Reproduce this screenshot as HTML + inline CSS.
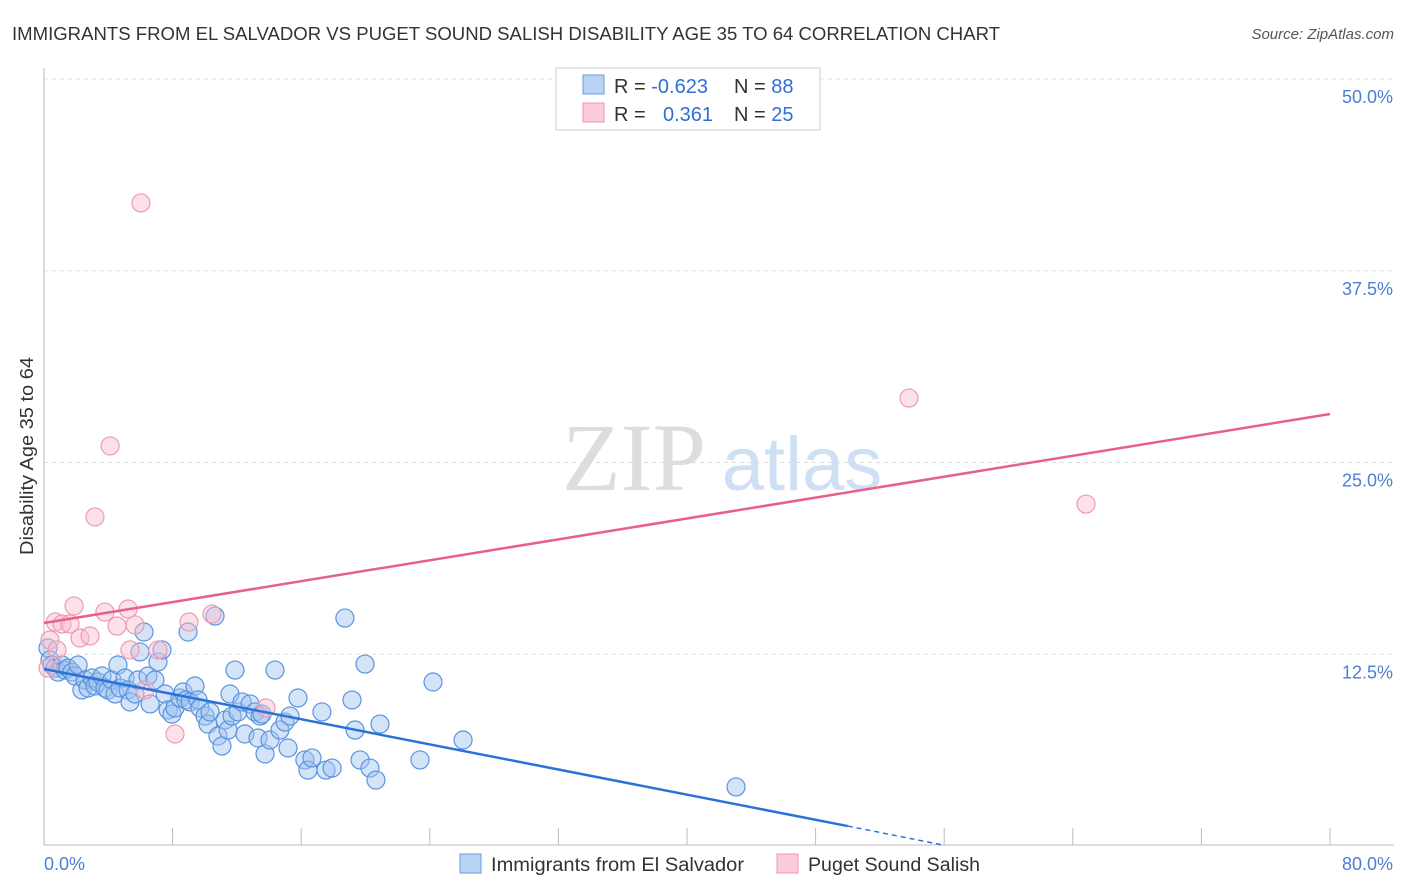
<!DOCTYPE html>
<html><head><meta charset="utf-8">
<style>
body{margin:0;background:#fff;font-family:"Liberation Sans",sans-serif;}
#wrap{position:relative;width:1406px;height:892px;overflow:hidden;}
</style></head>
<body>
<div id="wrap">
<svg id="svg" width="1406" height="892" xmlns="http://www.w3.org/2000/svg">
<text x="12" y="40" font-size="18" fill="#333" textLength="988" lengthAdjust="spacingAndGlyphs">IMMIGRANTS FROM EL SALVADOR VS PUGET SOUND SALISH DISABILITY AGE 35 TO 64 CORRELATION CHART</text>
<text x="1394" y="39" font-size="15" fill="#555" font-style="italic" text-anchor="end">Source: ZipAtlas.com</text>
<text x="0" y="0" transform="translate(33,456) rotate(-90)" font-size="18" fill="#333" text-anchor="middle" textLength="198" lengthAdjust="spacingAndGlyphs">Disability Age 35 to 64</text>
<g>
<text x="634" y="490" font-size="96" fill="#ddd" font-family="Liberation Serif" text-anchor="middle">ZIP</text>
<text x="802" y="490" font-size="76" fill="#cfe0f4" text-anchor="middle">atlas</text>
</g>
<g id="grid"></g><g id="axes"></g><g id="pts"></g><g id="lines"></g>
<g>
<rect x="556" y="68" width="264" height="62" fill="#fff" stroke="#ccc"/>
<rect x="583" y="75" width="21" height="19" fill="#b9d3f5" stroke="#6a9be0"/>
<rect x="583" y="103" width="21" height="19" fill="#fbcbd9" stroke="#ee95b0"/>
<text x="614" y="93" font-size="20" fill="#333">R = <tspan fill="#2f6fd6">-0.623</tspan><tspan x="734">N = </tspan><tspan fill="#2f6fd6">88</tspan></text>
<text x="614" y="121" font-size="20" fill="#333">R = <tspan x="663" fill="#2f6fd6">0.361</tspan><tspan x="734">N = </tspan><tspan fill="#2f6fd6">25</tspan></text>
</g>
<g>
<rect x="460" y="854" width="21" height="19" fill="#b9d3f5" stroke="#6a9be0"/>
<text x="491" y="871" font-size="19" fill="#333" textLength="253" lengthAdjust="spacingAndGlyphs">Immigrants from El Salvador</text>
<rect x="777" y="854" width="21" height="19" fill="#fbcbd9" stroke="#ee95b0"/>
<text x="808" y="871" font-size="19" fill="#333" textLength="172" lengthAdjust="spacingAndGlyphs">Puget Sound Salish</text>
</g>
</svg>
</div>
<script>
const blueX=[0.25,0.37,0.5,0.7,0.87,1.12,1.31,1.49,1.74,1.93,2.12,2.36,2.55,2.74,2.99,3.17,3.36,3.61,3.79,3.98,4.23,4.42,4.6,4.73,5.04,5.23,5.35,5.66,5.85,5.97,6.22,6.47,6.6,6.9,7.09,7.34,7.53,7.72,7.96,8.15,8.46,8.65,8.83,8.96,9.08,9.39,9.58,9.7,10.02,10.2,10.33,10.64,10.82,11.07,11.26,11.45,11.57,11.7,11.88,12.07,12.32,12.5,12.82,13.13,13.31,13.44,13.56,13.75,14.06,14.37,14.68,14.99,15.18,15.3,15.8,16.23,16.42,16.67,17.29,17.54,17.92,18.72,19.16,19.35,19.66,19.97,20.28,20.65,20.9,23.39,24.2,26.07,43.05];
const blueY=[12.91,12.13,11.8,11.6,11.34,11.8,11.47,11.6,11.34,11.08,11.8,10.17,10.82,10.3,10.95,10.43,10.69,11.08,10.3,10.17,10.82,9.91,11.8,10.3,10.95,10.17,9.39,9.91,10.82,12.65,13.95,11.08,9.26,10.82,12.0,12.78,9.91,8.87,8.6,9.0,9.65,10.04,9.52,13.95,9.39,10.43,9.52,9.0,8.47,7.95,8.74,14.99,7.17,6.52,8.21,7.56,9.91,8.47,11.47,8.74,9.39,7.3,9.26,8.74,7.04,8.47,8.6,6.0,6.91,11.47,7.56,8.08,6.39,8.47,9.65,5.61,4.95,5.74,8.74,4.95,5.08,14.86,9.52,7.56,5.61,11.86,5.08,4.3,7.95,5.61,10.69,6.91,3.85];
const pinkX=[0.37,0.7,0.81,1.12,1.62,1.87,2.24,2.86,3.17,3.79,4.11,4.54,5.23,5.35,5.66,6.03,6.28,7.09,8.15,9.02,10.45,13.81,53.81,64.82,0.25];
const pinkY=[13.43,14.6,12.78,14.47,14.47,15.65,13.56,13.69,21.45,15.25,26.08,14.34,15.45,12.78,14.41,41.92,10.17,12.78,7.3,14.6,15.12,9.0,29.2,22.29,11.6];
const blueTrend=[[0,11.54],[50,1.3]];
const blueDash=[[50,1.3],[56,0.05]];
const pinkTrend=[[0,14.54],[80,28.16]];
const yTicks=[12.5,25,37.5,50];
const yTickLabels=["12.5%","25.0%","37.5%","50.0%"];
const xTicks=[0,8,16,24,32,40,48,56,64,72,80];

const NS="http://www.w3.org/2000/svg";
const X0=44,X1=1330,Y0=846,Y1=79;
const sx=v=>X0+(X1-X0)*v/80;
const sy=v=>Y0-(Y0-Y1)*v/50;
function mk(tag,attrs,parent){const e=document.createElementNS(NS,tag);for(const k in attrs)e.setAttribute(k,attrs[k]);parent.appendChild(e);return e;}
const grid=document.getElementById('grid'),axes=document.getElementById('axes'),pts=document.getElementById('pts'),lines=document.getElementById('lines');
yTicks.forEach((t,i)=>{
 const l=mk('line',{x1:X0,x2:1394,y1:sy(t),y2:sy(t),stroke:'#ddd','stroke-dasharray':'4,4'},grid);
 
 
 const tx=mk('text',{x:1393,y:sy(t)+24,'font-size':18,fill:'#4a7fd4','text-anchor':'end'},axes);
 tx.textContent=yTickLabels[i];
 
 
});
const ax=mk('line',{x1:X0,x2:1394,y1:845,y2:845,stroke:'#bbb'},axes);


const ay=mk('line',{x1:X0,x2:X0,y1:68,y2:845,stroke:'#bbb'},axes);


xTicks.forEach(t=>{
 const l=mk('line',{x1:sx(t),x2:sx(t),y1:828,y2:845,stroke:'#bbb'},axes);
 
 
});
const xl0=mk('text',{x:44,y:870,'font-size':18,fill:'#4a7fd4'},axes);xl0.textContent='0.0%';


const xl1=mk('text',{x:1393,y:870,'font-size':18,fill:'#4a7fd4','text-anchor':'end'},axes);xl1.textContent='80.0%';


blueX.forEach((x,i)=>{
 const c=mk('circle',{cx:sx(x),cy:sy(blueY[i]),r:9,fill:'rgba(160,196,240,0.45)',stroke:'#5b93df','stroke-width':1.2},pts);
 
 
});
pinkX.forEach((x,i)=>{
 const c=mk('circle',{cx:sx(x),cy:sy(pinkY[i]),r:9,fill:'rgba(248,188,206,0.45)',stroke:'#ee9ab3','stroke-width':1.2},pts);
 
 
});
const bl=mk('line',{x1:sx(blueTrend[0][0]),y1:sy(blueTrend[0][1]),x2:sx(blueTrend[1][0]),y2:sy(blueTrend[1][1]),stroke:'#2872d8','stroke-width':2.5},lines);


const bd=mk('line',{x1:sx(blueDash[0][0]),y1:sy(blueDash[0][1]),x2:sx(blueDash[1][0]),y2:sy(blueDash[1][1]),stroke:'#2872d8','stroke-width':1.5,'stroke-dasharray':'5,4'},lines);


const pl=mk('line',{x1:sx(pinkTrend[0][0]),y1:sy(pinkTrend[0][1]),x2:sx(pinkTrend[1][0]),y2:sy(pinkTrend[1][1]),stroke:'#e8608a','stroke-width':2.5},lines);


</script>
</body></html>
